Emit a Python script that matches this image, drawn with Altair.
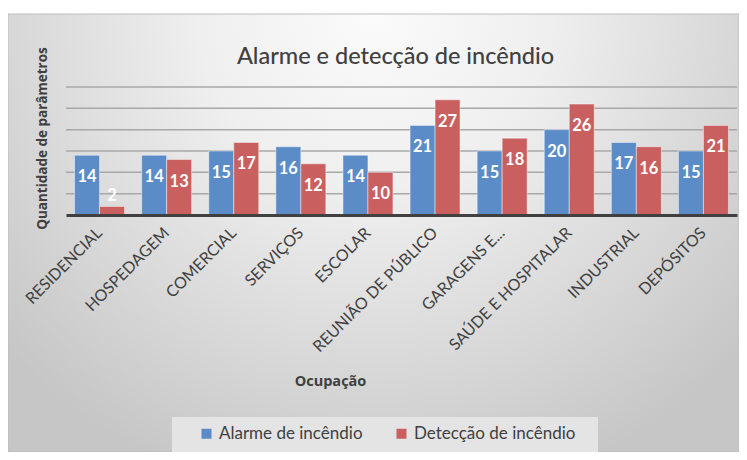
import altair as alt
import pandas as pd

categories = ["RESIDENCIAL", "HOSPEDAGEM", "COMERCIAL", "SERVIÇOS", "ESCOLAR",
              "REUNIÃO DE PÚBLICO", "GARAGENS E...", "SAÚDE E HOSPITALAR",
              "INDUSTRIAL", "DEPÓSITOS"]
series = ["Alarme de incêndio", "Detecção de incêndio"]
alarme = [14, 14, 15, 16, 14, 21, 15, 20, 17, 15]
deteccao = [2, 13, 17, 12, 10, 27, 18, 26, 16, 21]
grid_values = [5, 10, 15, 20, 25, 30]
colors = ["#5B8CC7", "#C9605F"]

rows = []
for c, a, d in zip(categories, alarme, deteccao):
    rows.append({"Ocupação": c, "Série": series[0], "Valor": a})
    rows.append({"Ocupação": c, "Série": series[1], "Valor": d})
df = pd.DataFrame(rows)

TXT = "#404040"

y_scale = alt.Scale(domain=[0, 30], nice=False)
y_axis = alt.Axis(title="Quantidade de parâmetros", labels=False, ticks=False,
                  domain=False, grid=False, zindex=1,
                  titleFont="Open Sans", titleFontSize=13.5, titleFontWeight="bold",
                  titleColor=TXT, titleAngle=270, titleX=-24, titleY=51,
                  titleAlign="center", titleBaseline="middle")
x_axis = alt.Axis(title="Ocupação", labelAngle=-45, labelAlign="right",
                  labelBaseline="middle", labelPadding=15, ticks=False,
                  domainColor=TXT, domainWidth=3, labelFont="Lato",
                  labelFontSize=16, labelColor=TXT, labelOverlap=False,
                  titleFont="Open Sans", titleFontSize=14.5, titleFontWeight="bold",
                  titleColor=TXT, titleX=264, titleY=166, titleAlign="center",
                  titleBaseline="middle", zindex=1)
x_enc = alt.X("Ocupação:N", sort=categories,
              scale=alt.Scale(paddingInner=0.255, paddingOuter=0.1275),
              axis=x_axis)
xo_enc = alt.XOffset("Série:N", sort=series,
                     scale=alt.Scale(paddingInner=0, paddingOuter=0))

grad = alt.RadialGradient(
    gradient="radial", x1=0.5, y1=0.2, x2=0.5, y2=0.2, r1=0, r2=0.68,
    stops=[alt.GradientStop(offset=0, color="#fbfbfb"),
           alt.GradientStop(offset=0.35, color="#efefef"),
           alt.GradientStop(offset=1, color="#c6c6c6")])

bg = alt.Chart(pd.DataFrame({"k": [0]})).mark_rect(
    fill=grad, stroke="#bdbdbd", strokeWidth=1
).encode(x=alt.value(-58), x2=alt.value(673), y=alt.value(-73), y2=alt.value(365))

legend_box = alt.Chart(pd.DataFrame({"k": [0]})).mark_rect(
    fill="#e4e4e4"
).encode(x=alt.value(106), x2=alt.value(532), y=alt.value(330), y2=alt.value(365))

grid = alt.Chart(pd.DataFrame({"v": grid_values})).mark_rule(
    color="#a8a8a8", strokeWidth=1.5
).encode(y=alt.Y("v:Q", scale=y_scale, axis=y_axis))

bars = alt.Chart(df).mark_bar(stroke="#ffffff", strokeOpacity=0.45, strokeWidth=1).encode(
    x=x_enc,
    xOffset=xo_enc,
    y=alt.Y("Valor:Q", scale=y_scale, axis=y_axis),
    color=alt.Color("Série:N", sort=series,
                    scale=alt.Scale(domain=series, range=colors),
                    legend=alt.Legend(title=None, orient="none", legendX=132,
                                      legendY=338, direction="horizontal",
                                      symbolType="square", symbolSize=100,
                                      symbolStrokeWidth=0, labelFont="Lato",
                                      labelFontSize=17, labelColor=TXT,
                                      labelLimit=400,
                                      columnPadding=30, labelOffset=4,
                                      padding=0, zindex=1)),
)

labels = alt.Chart(df).transform_calculate(
    ly="max(datum['Valor'], 9.6)"
).mark_text(color="white", font="Lato", fontWeight="bold", fontSize=16.5,
            dy=22, baseline="middle").encode(
    x=x_enc,
    xOffset=xo_enc,
    y=alt.Y("ly:Q", scale=y_scale, axis=y_axis),
    text="Valor:Q",
)

chart = alt.layer(bg, legend_box, grid, bars, labels).properties(
    width=671, height=128,
    title=alt.TitleParams("Alarme e detecção de incêndio", font="Lato",
                          fontSize=23.5, fontWeight=500, color=TXT,
                          anchor="middle", offset=22, dx=-6, dy=77, zindex=1),
    autosize=alt.AutoSizeParams(type="none"),
    padding={"left": 58, "top": 79, "right": 2, "bottom": 237},
).configure_view(stroke=None).configure(background="white")

chart.save("out.html", embed_options={"renderer": "svg", "actions": False})
